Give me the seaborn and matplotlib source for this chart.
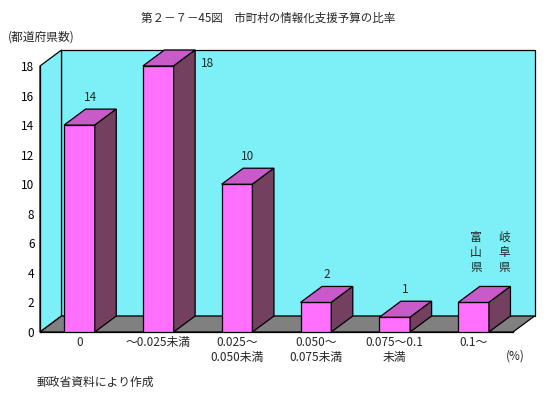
import matplotlib
matplotlib.use("Agg")
import matplotlib.pyplot as plt
import seaborn as sns
import pandas as pd
from matplotlib.patches import Polygon

sns.set_style("white")
plt.rcParams['font.family'] = ['Noto Sans CJK JP', 'DejaVu Sans']

categories = ["0", "～0.025未満", "0.025～\n0.050未満", "0.050～\n0.075未満", "0.075～0.1\n未満", "0.1～"]
values = [14, 18, 10, 2, 1, 2]
value_labels = ["14", "18", "10", "2", "1", ""]
yticks = [0, 2, 4, 6, 8, 10, 12, 14, 16, 18]

title = "第２－７－45図　市町村の情報化支援予算の比率"
ylabel = "(都道府県数)"
source = "郵政省資料により作成"
unit = "(%)"
notes = ["富山県", "岐阜県"]

df = pd.DataFrame({"cat": categories, "val": values})

W, H = 548, 398
fig = plt.figure(figsize=(W / 100, H / 100), dpi=100)
ax = fig.add_axes([40 / W, (H - 332) / H, (513 - 40) / W, (332 - 66) / H])

front_c = "#FF70FF"
top_c = "#C95AC9"
side_c = "#74405F"
wall_c = "#7DEFF7"
floor_c = "#808080"

sns.barplot(data=df, x="cat", y="val", ax=ax, color=front_c, width=0.39,
            saturation=1, edgecolor="black", linewidth=0.9, zorder=5)
ax.set_xlim(-0.5, 5.5)
ax.set_ylim(0, 18)

dx = 21.5 / ((513 - 40) / 6)
dy = 16 / ((332 - 66) / 18)
x0, x1, ytop = -0.5, 5.5, 18

# walls and floor
ax.add_patch(Polygon([(x0 + dx, dy), (x1 + dx, dy), (x1 + dx, ytop + dy), (x0 + dx, ytop + dy)],
                     closed=True, facecolor=wall_c, edgecolor="black", lw=0.9, clip_on=False, zorder=1))
ax.add_patch(Polygon([(x0, 0), (x0, ytop), (x0 + dx, ytop + dy), (x0 + dx, dy)],
                     closed=True, facecolor=wall_c, edgecolor="black", lw=0.9, clip_on=False, zorder=2))
ax.add_patch(Polygon([(x0, 0), (x1, 0), (x1 + dx, dy), (x0 + dx, dy)],
                     closed=True, facecolor=floor_c, edgecolor="black", lw=0.9, clip_on=False, zorder=2))

# 3D faces of bars
bars = [p for p in ax.patches if hasattr(p, "get_width") and p.get_height() > 0 and p.get_width() < 1]
for p, lab in zip(bars, value_labels):
    bx, bw, bh = p.get_x(), p.get_width(), p.get_height()
    ax.add_patch(Polygon([(bx, bh), (bx + bw, bh), (bx + bw + dx, bh + dy), (bx + dx, bh + dy)],
                         closed=True, facecolor=top_c, edgecolor="black", lw=0.9, clip_on=False, zorder=6))
    ax.add_patch(Polygon([(bx + bw, 0), (bx + bw + dx, dy), (bx + bw + dx, bh + dy), (bx + bw, bh)],
                         closed=True, facecolor=side_c, edgecolor="black", lw=0.9, clip_on=False, zorder=6))
    if not lab:
        continue
    if bh >= max(values):
        ax.text(bx + bw + dx + 0.08, bh + 0.2, lab, ha="left", va="center", fontsize=8.5, zorder=7)
    else:
        ax.text(bx + bw / 2 + dx / 2, bh + dy + 0.8, lab, ha="center", va="center", fontsize=8.5, zorder=7)

# axes styling
for s in ["top", "right"]:
    ax.spines[s].set_visible(False)
for s in ["left", "bottom"]:
    ax.spines[s].set_visible(True)
    ax.spines[s].set_color("black")
    ax.spines[s].set_linewidth(0.9)
    ax.spines[s].set_zorder(3)
ax.set_yticks(yticks)
ax.tick_params(axis="y", direction="out", length=3, width=0.8, labelsize=8.5, pad=1, colors="black")
ax.set_xticks(range(len(categories)))
ax.set_xticklabels(categories, fontsize=8.5, linespacing=1.15)
ax.tick_params(axis="x", length=0, pad=3)
ax.set_xticks([i - 0.5 for i in range(len(categories) + 1)], minor=True)
ax.tick_params(axis="x", which="minor", direction="in", length=3.5, width=0.8, colors="black")
ax.set_xlabel("")
ax.set_ylabel("")
ax.patch.set_visible(False)

# texts
fig.text(268 / W, 1 - 18 / H, title, ha="center", va="center", fontsize=8.3)
fig.text(8 / W, 1 - 37 / H, ylabel, ha="left", va="center", fontsize=8.5)
fig.text(37 / W, 1 - 382 / H, source, ha="left", va="center", fontsize=8.5)
fig.text(515 / W, 1 - 356 / H, unit, ha="center", va="center", fontsize=8.5)
for xp, s in zip([476, 504], notes):
    for k, ch in enumerate(s):
        fig.text(xp / W, 1 - (237 + 15.5 * k) / H, ch, ha="center", va="center", fontsize=8.5)

fig.savefig("out.png", dpi=100)
